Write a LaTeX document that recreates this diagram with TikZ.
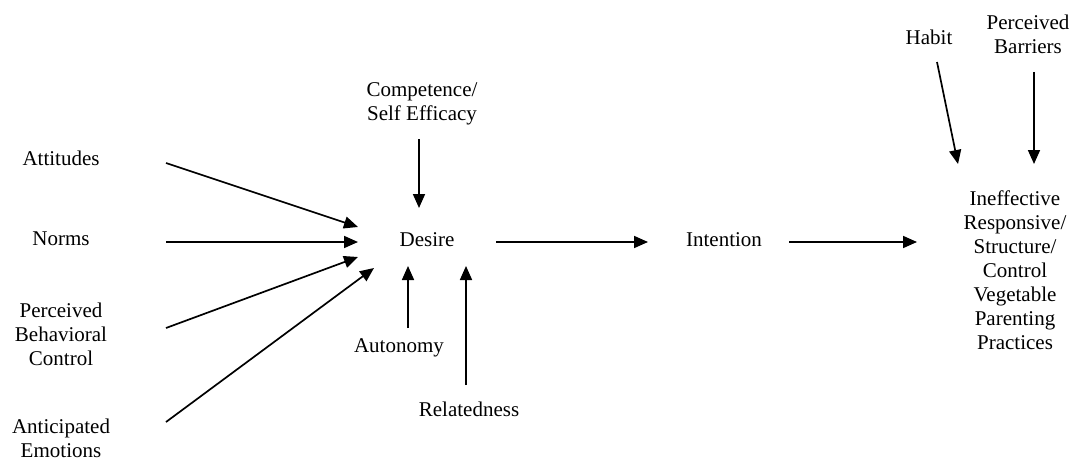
\documentclass[tikz,border=0pt]{standalone}
\usepackage{fontspec}
\setmainfont{Liberation Serif}
\usetikzlibrary{arrows.meta}
\begin{document}
\begin{tikzpicture}[x=1pt,y=-1pt,
  lbl/.style={align=center,inner sep=0pt,font=\fontsize{21}{24}\selectfont},
  arr/.style={line width=1.7pt,-{Triangle[length=14pt,width=12pt]}}]
\useasboundingbox (0,0) rectangle (1074,460);
% labels
\node[lbl] (att) at (61,158) {Attitudes};
\node[lbl] (norm) at (61,239) {Norms};
\node[lbl] (pbc) at (61,334) {Perceived\\Behavioral\\Control};
\node[lbl] (ae) at (61,438) {Anticipated\\Emotions};
\node[lbl] (comp) at (422,104) {Competence/\\Self Efficacy};
\node[lbl] (des) at (427,240) {Desire};
\node[lbl] (aut) at (399,348) {Autonomy};
\node[lbl] (rel) at (469,409) {Relatedness};
\node[lbl] (int) at (724,240) {Intention};
\node[lbl] (hab) at (929,37) {Habit};
\node[lbl] (bar) at (1028,34) {Perceived\\Barriers};
\node[lbl] (out) at (1015,270) {Ineffective\\Responsive/\\Structure/\\Control\\Vegetable\\Parenting\\Practices};
% arrow end points
\coordinate (attS) at (166,163); \coordinate (attE) at (358,227);
\coordinate (normS) at (166,242); \coordinate (normE) at (358,242);
\coordinate (pbcS) at (166,328); \coordinate (pbcE) at (358,257);
\coordinate (aeS) at (166,422); \coordinate (aeE) at (374,268);
\coordinate (compS) at (419,139); \coordinate (compE) at (419,208);
\coordinate (autS) at (408,328); \coordinate (autE) at (408,266);
\coordinate (relS) at (466,385); \coordinate (relE) at (466,266);
\coordinate (desS) at (496,242); \coordinate (desE) at (648,242);
\coordinate (intS) at (789,242); \coordinate (intE) at (917,242);
\coordinate (habS) at (937,62); \coordinate (habE) at (958,164);
\coordinate (barS) at (1034,72); \coordinate (barE) at (1034,164);
% connectors
\draw[arr] (attS) -- (attE);
\draw[arr] (normS) -- (normE);
\draw[arr] (pbcS) -- (pbcE);
\draw[arr] (aeS) -- (aeE);
\draw[arr] (compS) -- (compE);
\draw[arr] (autS) -- (autE);
\draw[arr] (relS) -- (relE);
\draw[arr] (desS) -- (desE);
\draw[arr] (intS) -- (intE);
\draw[arr] (habS) -- (habE);
\draw[arr] (barS) -- (barE);
\end{tikzpicture}
\end{document}
